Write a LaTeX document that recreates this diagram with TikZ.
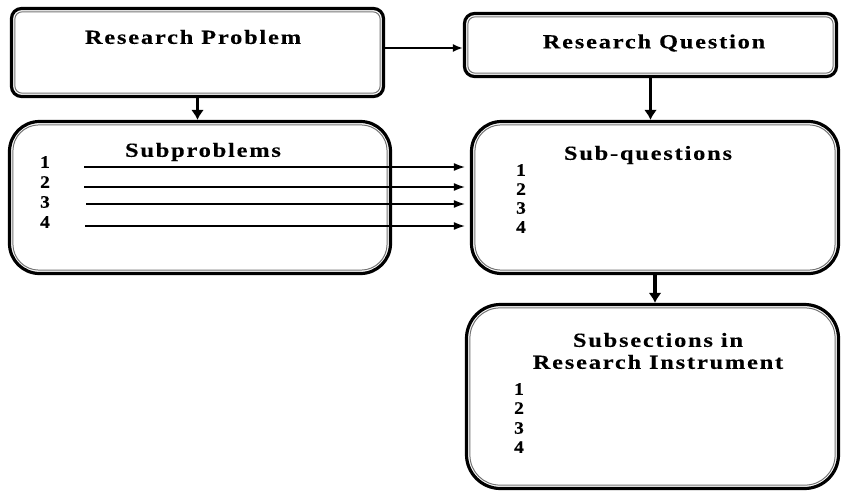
\documentclass[tikz,border=0pt]{standalone}
\usepackage{fontspec}
\setmainfont{Liberation Serif}
\newfontfamily\tfont[FakeStretch=1.22,LetterSpace=9,FakeBold=0.3]{Liberation Serif}
\newfontfamily\nfont[FakeStretch=1.1,FakeBold=0.3]{Liberation Serif}
\usetikzlibrary{arrows.meta}
\begin{document}
\begin{tikzpicture}[x=1pt,y=-1pt,
  outerbox/.style={draw=black, line width=3.2pt, inner sep=0pt},
  innerline/.style={draw=black!55, line width=1pt},
  ttl/.style={inner sep=0pt, font=\tfont\bfseries\fontsize{20}{24}\selectfont},
  num/.style={inner sep=0pt, anchor=west, font=\nfont\bfseries\fontsize{17.5}{20}\selectfont},
  varr/.style={line width=3.2pt, -{Latex[length=10pt,width=13pt]}},
  harr/.style={line width=1.8pt, -{Latex[length=10pt,width=8pt]}},
  sarr/.style={line width=2.4pt, -{Latex[length=12pt,width=8pt]}, shorten >=4pt}]
\useasboundingbox (0,0) rectangle (842,498);
% boxes
\node[outerbox, rounded corners=10pt, minimum width=372pt, minimum height=88pt] (rp) at (197.5,52.5) {};
\node[outerbox, rounded corners=10pt, minimum width=372pt, minimum height=63pt] (rq) at (650.5,45) {};
\node[outerbox, rounded corners=30pt, minimum width=381pt, minimum height=152pt] (sp) at (200,197.5) {};
\node[outerbox, rounded corners=30pt, minimum width=367pt, minimum height=152pt] (sq) at (655,197.5) {};
\node[outerbox, rounded corners=34pt, minimum width=372pt, minimum height=184pt] (ss) at (652.5,396.5) {};
% inner lines
\draw[innerline, rounded corners=7pt] ([shift={(5,5)}]rp.north west) rectangle ([shift={(-5,-5)}]rp.south east);
\draw[innerline, rounded corners=7pt] ([shift={(5,5)}]rq.north west) rectangle ([shift={(-5,-5)}]rq.south east);
\draw[innerline, rounded corners=26pt] ([shift={(5,5)}]sp.north west) rectangle ([shift={(-5,-5)}]sp.south east);
\draw[innerline, rounded corners=26pt] ([shift={(5,5)}]sq.north west) rectangle ([shift={(-5,-5)}]sq.south east);
\draw[innerline, rounded corners=30pt] ([shift={(5,5)}]ss.north west) rectangle ([shift={(-5,-5)}]ss.south east);
% texts
\node[ttl] (rpt) at (193,37) {Research Problem};
\node[ttl] (rqt) at (654,43) {Research Question};
\node[ttl] (spt) at (203,152) {Subproblems};
\node[ttl] (sqt) at (648,155) {Sub-questions};
\node[ttl] (sst1) at (658,340) {Subsections in};
\node[ttl] (sst2) at (658,362) {Research Instrument};
\node[num] (sp1) at (40,162) {1};
\node[num] (sp2) at (40,182) {2};
\node[num] (sp3) at (40,202) {3};
\node[num] (sp4) at (40,222) {4};
\node[num] (sq1) at (516,170) {1};
\node[num] (sq2) at (516,189) {2};
\node[num] (sq3) at (516,208) {3};
\node[num] (sq4) at (516,227) {4};
\node[num] (ss1) at (514,389) {1};
\node[num] (ss2) at (514,408) {2};
\node[num] (ss3) at (514,428) {3};
\node[num] (ss4) at (514,447) {4};
% connectors
\coordinate (y48) at (0,48);
\draw[harr] (rp.east |- y48) -- (rq.west |- y48);
\draw[varr] (rp.south) -- (rp.south |- sp.north);
\draw[varr] (rq.south) -- (rq.south |- sq.north);
\draw[varr] (sq.south) -- (sq.south |- ss.north);
\coordinate (a1) at (84,167);
\coordinate (a2) at (84,187);
\coordinate (a3) at (86,204);
\coordinate (a4) at (85,226);
\draw[sarr] (a1) -- (a1 -| sq.west);
\draw[sarr] (a2) -- (a2 -| sq.west);
\draw[sarr] (a3) -- (a3 -| sq.west);
\draw[sarr] (a4) -- (a4 -| sq.west);
\end{tikzpicture}
\end{document}
